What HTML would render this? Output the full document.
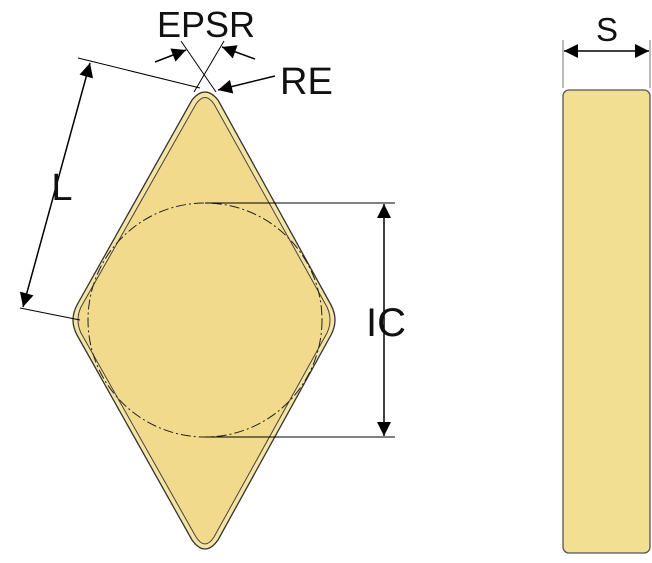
<!DOCTYPE html>
<html><head><style>
html,body{margin:0;padding:0;background:#fff;}
svg{display:block;}
text{font-family:"Liberation Sans",sans-serif;fill:#111;}
</style></head><body>
<svg width="652" height="563" viewBox="0 0 652 563">
<defs>
<marker id="b" viewBox="0 0 10 10" refX="10" refY="5" markerWidth="16" markerHeight="14" orient="auto-start-reverse" markerUnits="userSpaceOnUse">
<path d="M0,0 L10,5 L0,10 z" fill="#000"/></marker>
</defs>
<path d="M192,100 Q205,84 218,100 L331,305 Q339,320 331,335 L218,540 Q205,558 192,540 L77,335 Q69,320 77,305 Z" fill="#f5e4a2" stroke="#333" stroke-width="1.3"/>
<path d="M196,104 Q205,91 214,104 L327,307 Q333,320 327,333 L214,537 Q205,551 196,537 L81,333 Q75,320 81,307 Z" fill="#f1da8c" stroke="#444" stroke-width="1"/>
<circle cx="205" cy="320" r="117" fill="none" stroke="#222" stroke-width="1" stroke-dasharray="10,3,2,3"/>
<rect x="563" y="90" width="87" height="463" rx="6" fill="#f3df92" stroke="#555" stroke-width="1.3"/>
<line x1="563" y1="40" x2="563" y2="88" stroke="#777" stroke-width="1"/>
<line x1="650" y1="40" x2="650" y2="88" stroke="#777" stroke-width="1"/>
<line x1="564" y1="51" x2="649" y2="51" stroke="#000" stroke-width="1.5" marker-start="url(#b)" marker-end="url(#b)"/>
<text x="607" y="41" font-size="33" text-anchor="middle">S</text>
<line x1="78" y1="58" x2="200" y2="88" stroke="#000" stroke-width="1"/>
<line x1="20" y1="308" x2="80" y2="320" stroke="#000" stroke-width="1"/>
<line x1="90" y1="63" x2="23" y2="307" stroke="#000" stroke-width="1.5" marker-start="url(#b)" marker-end="url(#b)"/>
<text x="62" y="200" font-size="38" text-anchor="middle">L</text>
<line x1="205" y1="203" x2="395" y2="203" stroke="#000" stroke-width="1"/>
<line x1="205" y1="437" x2="395" y2="437" stroke="#000" stroke-width="1"/>
<line x1="384" y1="204" x2="384" y2="436" stroke="#000" stroke-width="1.5" marker-start="url(#b)" marker-end="url(#b)"/>
<text x="386" y="336" font-size="40" text-anchor="middle">IC</text>
<line x1="181" y1="41" x2="216" y2="92" stroke="#000" stroke-width="1"/>
<line x1="224" y1="41" x2="194" y2="92" stroke="#000" stroke-width="1"/>
<line x1="155" y1="62" x2="186" y2="50" stroke="#000" stroke-width="1.5" marker-end="url(#b)"/>
<line x1="255" y1="59" x2="222" y2="47" stroke="#000" stroke-width="1.5" marker-end="url(#b)"/>
<text x="206" y="37" font-size="36" text-anchor="middle">EPSR</text>
<line x1="275" y1="76" x2="218" y2="90" stroke="#000" stroke-width="1.5" marker-end="url(#b)"/>
<text x="280" y="94" font-size="38">RE</text>
</svg>
</body></html>
